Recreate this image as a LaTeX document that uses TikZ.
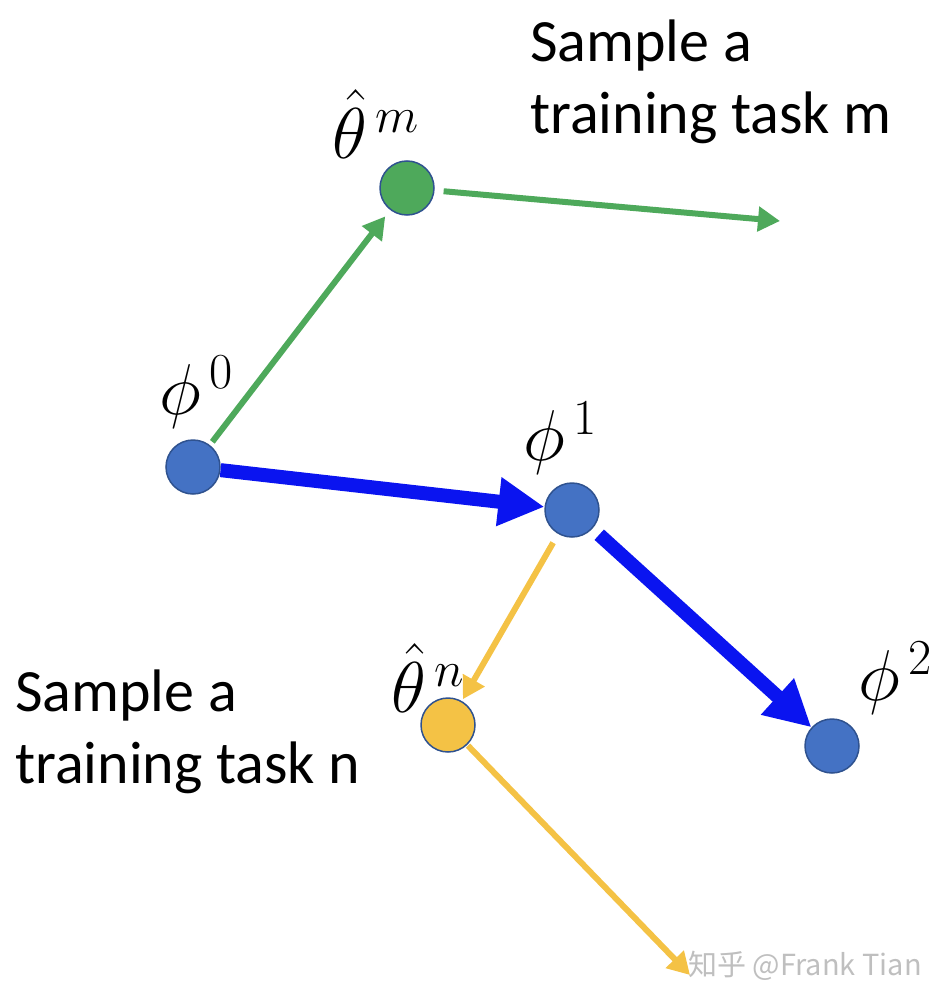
\RequirePackage{fix-cm}
\documentclass[tikz,border=0pt]{standalone}
\usepackage{fontspec}
\newfontfamily\calib{Carlito}
\newfontfamily\cjk{Noto Sans CJK SC}
\usetikzlibrary{arrows.meta}
\definecolor{nodeblue}{HTML}{4472C4}
\definecolor{nodeedge}{HTML}{2F528F}
\definecolor{arrblue}{HTML}{0A14F0}
\definecolor{mgreen}{HTML}{4EA95B}
\definecolor{myellow}{HTML}{F4C245}
\tikzset{
  dot/.style={circle, inner sep=0pt, minimum size=54pt, draw=nodeedge, line width=1.5pt},
  bluearr/.style={arrblue, line width=14pt, -{Triangle[length=46pt, width=46pt]}},
  greenarr/.style={mgreen, line width=6pt, -{Triangle[length=22pt, width=24pt]}},
  yellowarr/.style={myellow, line width=6pt, -{Triangle[length=22pt, width=24pt]}},
  mathlbl/.style={inner sep=0pt, font=\fontsize{72}{84}\selectfont},
  txt/.style={inner sep=0pt, align=left, font=\calib\fontsize{60}{72}\selectfont},
}
\begin{document}
\begin{tikzpicture}[x=1pt,y=-1pt]
\useasboundingbox (0,0) rectangle (942,1006);
\node[dot, fill=nodeblue] (p0) at (193,467) {};
\node[dot, fill=nodeblue] (p1) at (572,510) {};
\node[dot, fill=nodeblue] (p2) at (832,746) {};
\node[dot, fill=mgreen] (tm) at (407,188) {};
\node[dot, fill=myellow] (tn) at (448,725) {};
\coordinate (gm) at (780,221);
\coordinate (yn) at (690,975);

\draw[bluearr] (p0) -- (p1);
\draw[bluearr, shorten <=9pt] (p1) -- (p2);
\draw[greenarr, shorten <=4pt, shorten >=8pt] (p0) -- (tm);
\draw[greenarr, shorten <=9pt] (tm) -- (gm);
\draw[yellowarr, shorten <=10pt, shorten >=2pt] (p1) -- (tn);
\draw[yellowarr, shorten <=1pt] (tn) -- (yn);

\node[mathlbl] (l0) at (196,392) {$\phi^{\,0}$};
\node[mathlbl] (l1) at (560,438) {$\phi^{\,1}$};
\node[mathlbl] (l2) at (895,678) {$\phi^{\,2}$};
\node[mathlbl] (lm) at (376,124) {$\hat{\theta}^{\,m}$};
\node[mathlbl] (ln) at (428,678) {$\hat{\theta}^{\,n}$};

\node[txt, anchor=north west] (tm1) at (530,20) {Sample a\\training task m};
\node[txt, anchor=north west] (tn1) at (15,670) {Sample a\\training task n};

\node[inner sep=0pt, text=gray!50, font=\cjk\fontsize{29}{30}\selectfont] (wm) at (805,966) {知乎 @Frank Tian};
\end{tikzpicture}
\end{document}
